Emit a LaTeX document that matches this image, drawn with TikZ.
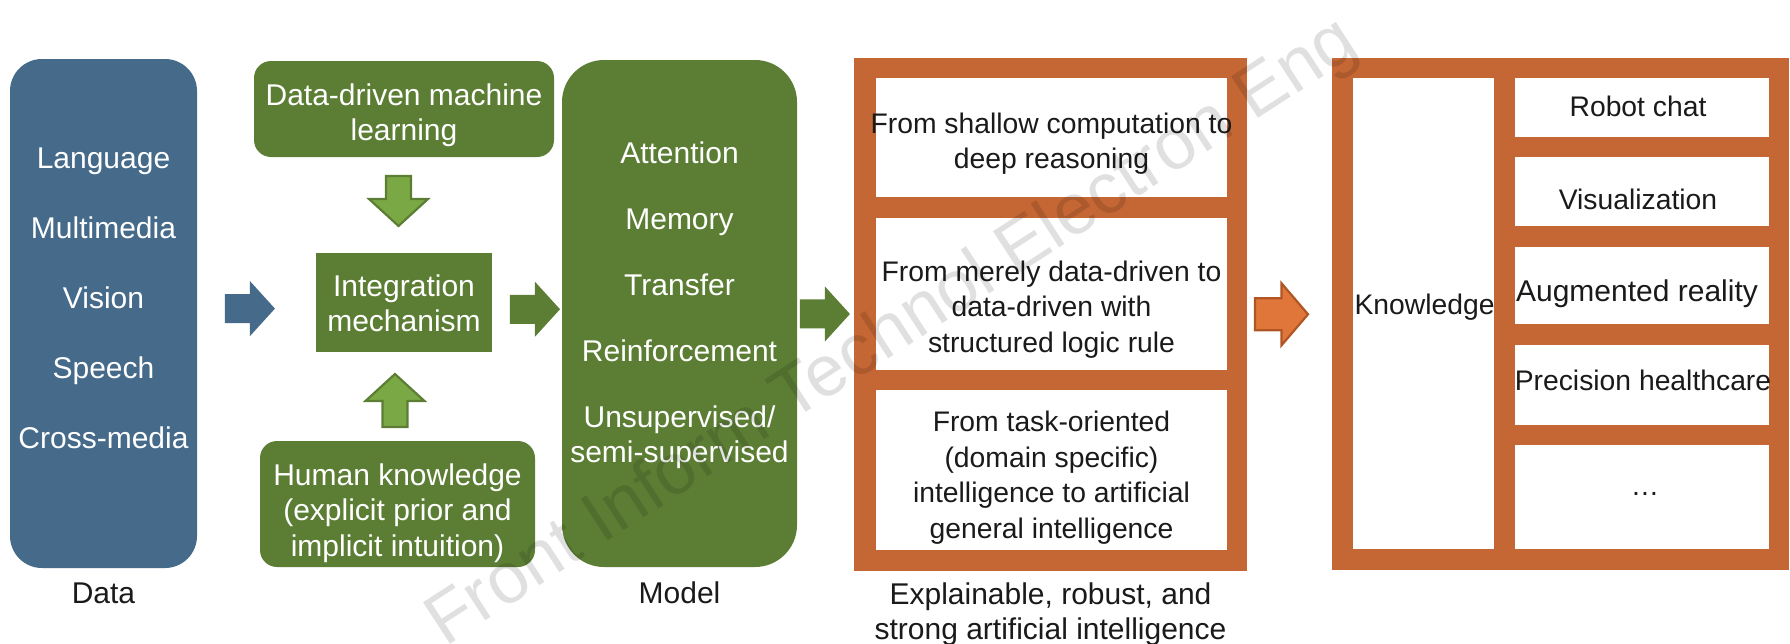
\documentclass[tikz,border=0pt]{standalone}
\usepackage{fontspec}
\setmainfont{Liberation Sans}
\usetikzlibrary{calc}
\definecolor{dblue}{RGB}{70,106,138}
\definecolor{dgreen}{RGB}{92,126,52}
\definecolor{lgreen}{RGB}{122,168,68}
\definecolor{orng}{RGB}{196,103,52}
\definecolor{orngfill}{RGB}{225,118,58}
\definecolor{orngedge}{RGB}{176,86,36}
\definecolor{txtdark}{RGB}{26,26,26}
\newcommand{\fsmain}{\fontsize{30}{35.5}\selectfont}
\newcommand{\fsbox}{\fontsize{28.3}{35.5}\selectfont}
\begin{document}
\begin{tikzpicture}[x=1pt,y=-1pt,
  box/.style={inner sep=0, outer sep=0},
  wtxt/.style={text=white, align=center, font=\fsmain, inner sep=0},
  btxt/.style={text=txtdark, align=center, font=\fsmain, inner sep=0},
  otxt/.style={text=txtdark, align=center, font=\fsbox, inner sep=0},
  rblock/.pic={\path[pic actions] (-25,-14.5) -- (0,-14.5) -- (0,-27.5) -- (25,0) -- (0,27.5) -- (0,14.5) -- (-25,14.5) -- cycle;},
  dblock/.pic={\path[pic actions] (-12.5,-25) -- (12.5,-25) -- (12.5,-2) -- (29.5,-2) -- (0,25) -- (-29.5,-2) -- (-12.5,-2) -- cycle;},
  ublock/.pic={\path[pic actions] (-12.5,26.5) -- (12.5,26.5) -- (12.5,0.5) -- (29.5,0.5) -- (0,-26.5) -- (-29.5,0.5) -- (-12.5,0.5) -- cycle;},
  oblock/.pic={\path[pic actions] (-26.5,-16) -- (0,-16) -- (0,-31) -- (26.5,0) -- (0,31) -- (0,16) -- (-26.5,16) -- cycle;}
]
\useasboundingbox (0,0) rectangle (1790,643);

% Data column
\node[box, fill=dblue, rounded corners=32, minimum width=187, minimum height=509] (data) at (103.5,313.5) {};
\node[wtxt, font=\fontsize{30}{70}\selectfont] (datatxt) at (103.5,298) {Language\\Multimedia\\Vision\\Speech\\Cross-media};
\node[btxt] (datalbl) at (103.5,593) {Data};

% Integration part
\node[box, fill=dgreen, rounded corners=17, minimum width=300, minimum height=96] (ddml) at (404,109) {};
\node[wtxt] (ddmltxt) at (404,115) {Data-driven machine\\learning};
\node[box, fill=dgreen, minimum width=176, minimum height=99] (integ) at (404,302.5) {};
\node[wtxt] (integtxt) at (404,303.5) {Integration\\mechanism};
\node[box, fill=dgreen, rounded corners=17, minimum width=275, minimum height=126] (hk) at (397.5,504) {};
\node[wtxt] (hktxt) at (397.5,513) {Human knowledge\\(explicit prior and\\implicit intuition)};

% Model
\node[box, fill=dgreen, rounded corners=42, minimum width=235, minimum height=507] (model) at (679.5,313.5) {};
\node[wtxt] (modeltxt) at (679.5,305) {Attention\\[30.5pt]Memory\\[30.5pt]Transfer\\[30.5pt]Reinforcement\\[30.5pt]Unsupervised/\\semi-supervised};
\node[btxt] (modellbl) at (679.5,593) {Model};

% Orange box 1
\node[box, fill=orng, minimum width=393, minimum height=513] (ob1) at (1050.5,314.5) {};
\node[box, fill=white, minimum width=351, minimum height=119] (c1) at (1051.5,137.5) {};
\node[box, fill=white, minimum width=351, minimum height=152] (c2) at (1051.5,294) {};
\node[box, fill=white, minimum width=351, minimum height=160] (c3) at (1051.5,470) {};
\node[otxt] (c1txt) at (1051.5,143.5) {From shallow computation to\\deep reasoning};
\node[otxt] (c2txt) at (1051.5,309.5) {From merely data-driven to\\data-driven with\\structured logic rule};
\node[otxt] (c3txt) at (1051.5,477.5) {From task-oriented\\(domain specific)\\intelligence to artificial\\general intelligence};
\node[btxt, font=\fontsize{30}{35}\selectfont] (ob1lbl) at (1050.5,614) {Explainable, robust, and\\strong artificial intelligence};

% Orange box 2
\node[box, fill=orng, minimum width=457, minimum height=512] (ob2) at (1560.5,314) {};
\node[box, fill=white, minimum width=141, minimum height=471] (kn) at (1423.5,313.5) {};
\node[box, fill=white, minimum width=254, minimum height=59] (r1) at (1642,107.5) {};
\node[box, fill=white, minimum width=254, minimum height=69] (r2) at (1642,191.5) {};
\node[box, fill=white, minimum width=254, minimum height=77] (r3) at (1642,285.5) {};
\node[box, fill=white, minimum width=254, minimum height=80] (r4) at (1642,385) {};
\node[box, fill=white, minimum width=254, minimum height=104] (r5) at (1642,497) {};
\node[otxt] (kntxt) at (1424.5,307) {Knowledge};
\node[otxt] (r1txt) at (1638,106) {Robot chat};
\node[otxt] (r2txt) at (1638,199) {Visualization};
\node[otxt, font=\fontsize{30}{35.5}\selectfont] (r3txt) at (1637,294) {Augmented reality};
\node[otxt] (r4txt) at (1643,380) {Precision healthcare};
\node[otxt] (r5txt) at (1645,494) {…};

% Block arrows between the nodes
\path ($(data.east)!0.445!(integ.west)$) pic[fill=dblue] {rblock};
\path ($(integ.east)!0.614!(model.west)$) pic[fill=dgreen] {rblock};
\path ($(model.east)!0.49!(ob1.west)$) pic[fill=dgreen] {rblock};
\path ($(ob1.east)!0.406!(ob2.west)$) pic[fill=orngfill, draw=orngedge, line width=2.2] {oblock};
\path ($(ddml.south)!0.458!(integ.north)+(-5.5,0)$) pic[fill=lgreen, draw=dgreen, line width=2.2] {dblock};
\path ($(integ.south)!0.545!(hk.north)+(-5.5,0)$) pic[fill=lgreen, draw=dgreen, line width=2.2] {ublock};

% Watermark
\node[font=\fontsize{72}{72}\selectfont, text=black, opacity=0.12, rotate=33] (wm) at (893,334) {Front Inform Technol Electron Eng};
\end{tikzpicture}
\end{document}
